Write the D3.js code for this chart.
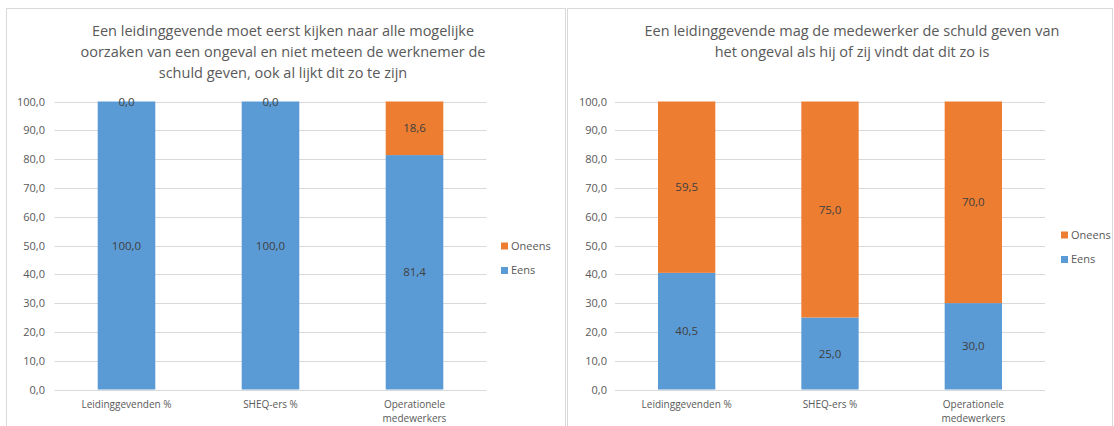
<!DOCTYPE html>
<html>
<head>
<meta charset="utf-8">
<script src="https://cdn.jsdelivr.net/npm/d3@7"></script>
<style>
  body { margin: 0; background: #fff; }
  svg { display: block; font-family: "Open Sans", sans-serif; }
</style>
</head>
<body>
<svg width="1114" height="426"></svg>
<script>
var categories = ["Leidinggevenden %", "SHEQ-ers %", "Operationele medewerkers"];
var seriesNames = ["Eens", "Oneens"];
var eensLeft = [100.0, 100.0, 81.4];
var oneensLeft = [0.0, 0.0, 18.6];
var eensRight = [40.5, 25.0, 30.0];
var oneensRight = [59.5, 75.0, 70.0];
var titleLeft = ["Een leidinggevende moet eerst kijken naar alle mogelijke",
  "oorzaken van een ongeval en niet meteen de werknemer de",
  "schuld geven, ook al lijkt dit zo te zijn"];
var titleRight = ["Een leidinggevende mag de medewerker de schuld geven van",
  "het ongeval als hij of zij vindt dat dit zo is"];
var yTicks = [0, 10, 20, 30, 40, 50, 60, 70, 80, 90, 100];

var z = d3.scaleOrdinal().domain(seriesNames).range(["#5b9bd5", "#ed7d31"]);
var fmt = function(v) { return v.toFixed(1).replace(".", ","); };

var svg = d3.select("svg");

function drawPanel(opts) {
  var p = svg.append("g").attr("transform", "translate(" + opts.left + ",0)");

  p.append("rect")
      .attr("x", 0.5).attr("y", 8.5)
      .attr("width", opts.width - 1).attr("height", 430)
      .attr("fill", "#fff").attr("stroke", "#d9d9d9");

  p.append("g").selectAll("text")
    .data(opts.title)
    .enter().append("text")
      .attr("x", opts.titleX)
      .attr("y", function(d, i) { return 36 + i * 21; })
      .attr("text-anchor", "middle")
      .attr("font-size", 14.5)
      .attr("fill", "#595959")
      .text(function(d) { return d; });

  var x = d3.scaleBand().domain(categories)
      .range([opts.plotX0, opts.plotX1]).paddingInner(0.6).paddingOuter(0.3);
  var y = d3.scaleLinear().domain([0, 100]).range([389.5, 101.5]);

  // gridlines
  p.append("g").selectAll("line")
    .data(yTicks)
    .enter().append("line")
      .attr("x1", opts.plotX0).attr("x2", opts.plotX1)
      .attr("y1", function(d) { return Math.round(y(d)) + 0.5; })
      .attr("y2", function(d) { return Math.round(y(d)) + 0.5; })
      .attr("stroke", "#d9d9d9");

  var yAxis = p.append("g")
      .attr("transform", "translate(" + opts.plotX0 + ",0)")
      .call(d3.axisLeft(y).tickValues(yTicks).tickFormat(fmt).tickSize(0).tickPadding(opts.tickPad));
  yAxis.select(".domain").remove();
  yAxis.selectAll("text").attr("font-size", 11).attr("fill", "#595959")
      .attr("font-family", "Open Sans, sans-serif");

  var rows = categories.map(function(c, i) {
    return {name: c, Eens: opts.eens[i], Oneens: opts.oneens[i]};
  });
  var stacked = d3.stack().keys(seriesNames)(rows);

  p.append("g").selectAll("g")
    .data(stacked)
    .enter().append("g")
      .attr("fill", function(d) { return z(d.key); })
    .selectAll("rect")
    .data(function(d) { return d; })
    .enter().append("rect")
      .attr("x", function(d) { return x(d.data.name); })
      .attr("y", function(d) { return y(d[1]); })
      .attr("height", function(d) { return y(d[0]) - y(d[1]); })
      .attr("width", x.bandwidth());

  p.append("g").selectAll("g")
    .data(stacked)
    .enter().append("g")
    .selectAll("text")
    .data(function(d) { return d; })
    .enter().append("text")
      .attr("x", function(d) { return x(d.data.name) + x.bandwidth() / 2; })
      .attr("y", function(d) { return (y(d[0]) + y(d[1])) / 2; })
      .attr("dy", "0.35em")
      .attr("text-anchor", "middle")
      .attr("font-size", 11.5)
      .attr("fill", "#404040")
      .text(function(d) { return fmt(d[1] - d[0]); });

  // category labels, last one wrapped on two lines
  var xl = p.append("g").selectAll("text")
    .data(categories)
    .enter().append("text")
      .attr("x", function(d) { return x(d) + x.bandwidth() / 2; })
      .attr("y", 408)
      .attr("text-anchor", "middle")
      .attr("font-size", 10)
      .attr("fill", "#595959");
  xl.each(function(d) {
    var parts = d === "Operationele medewerkers" ? ["Operationele", "medewerkers"] : [d];
    var t = d3.select(this);
    parts.forEach(function(s, i) {
      t.append("tspan").attr("x", t.attr("x")).attr("dy", i ? 14 : 0).text(s);
    });
  });

  var legend = p.append("g")
    .selectAll("g")
    .data(seriesNames.slice().reverse())
    .enter().append("g")
      .attr("transform", function(d, i) { return "translate(" + opts.legendX + "," + (opts.legendY + i * 24.5) + ")"; });
  legend.append("rect")
      .attr("x", 0).attr("y", -3.5)
      .attr("width", 7).attr("height", 7)
      .attr("fill", z);
  legend.append("text")
      .attr("x", 10).attr("dy", "0.35em")
      .attr("font-size", 11)
      .attr("fill", "#595959")
      .text(function(d) { return d; });
}

drawPanel({left: 6, width: 560, title: titleLeft, titleX: 277, tickPad: 9.5,
  plotX0: 48.5, plotX1: 480.5, eens: eensLeft, oneens: oneensLeft,
  legendX: 495, legendY: 246});
drawPanel({left: 567, width: 546, title: titleRight, titleX: 285, tickPad: 8,
  plotX0: 48, plotX1: 478, eens: eensRight, oneens: oneensRight,
  legendX: 494, legendY: 235});
</script>
</body>
</html>
